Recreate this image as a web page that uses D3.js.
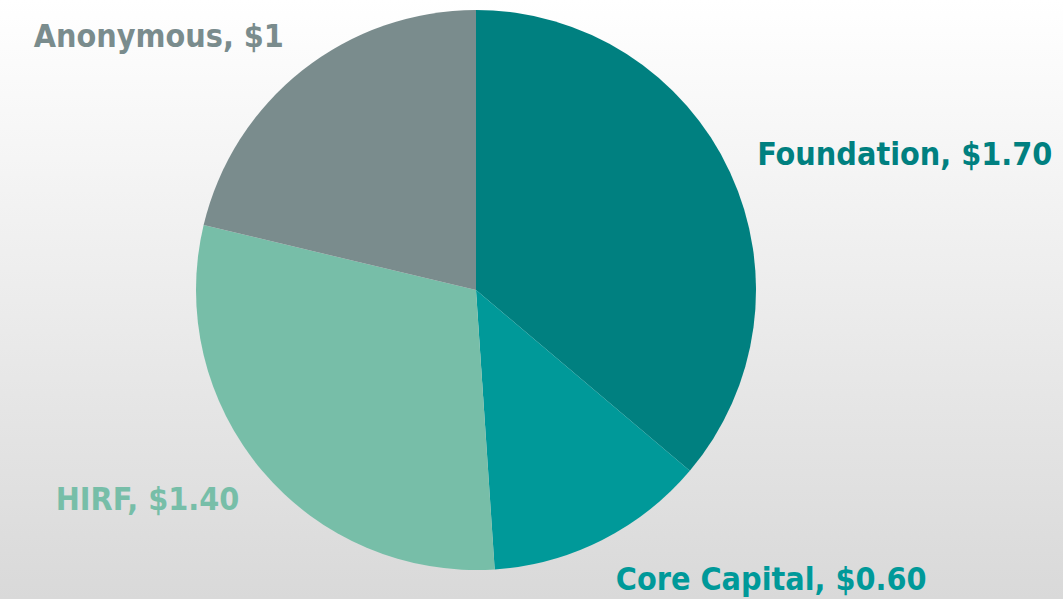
<!DOCTYPE html>
<html><head><meta charset="utf-8">
<script src="https://cdn.jsdelivr.net/npm/d3@7"></script>
<style>html,body{margin:0;padding:0;overflow:hidden}</style>
</head><body>
<svg id="c" width="1063" height="599"></svg>
<script>
const categories = ["Foundation", "Core Capital", "HIRF", "Anonymous"];
const values = [1.70, 0.60, 1.40, 1.00];
const valueLabels = ["$1.70", "$0.60", "$1.40", "$1"];
const colors = ["#008080", "#009999", "#77BEA8", "#7A8C8D"];

const W = 1063, H = 599;
const svg = d3.select("#c");
const defs = svg.append("defs");
const g = defs.append("linearGradient").attr("id","bg").attr("x1",0).attr("y1",0).attr("x2",0).attr("y2",1);
g.append("stop").attr("offset","0%").attr("stop-color","#ffffff");
g.append("stop").attr("offset","100%").attr("stop-color","#d9d9d9");
svg.append("rect").attr("width",W).attr("height",H).attr("fill","url(#bg)");

const cx = 476, cy = 290, r = 280;
const pie = d3.pie().sort(null).value(d => d);
const arcs = pie(values);
const arc = d3.arc().innerRadius(0).outerRadius(r);
const root = svg.append("g").attr("transform", `translate(${cx},${cy})`);
root.selectAll("path").data(arcs).join("path")
  .attr("d", arc).attr("fill", (d,i) => colors[i]);

const lrx = r + 30, lry = r + 44;
root.selectAll("text").data(arcs).join("text")
  .attr("x", d => { const a = (d.startAngle + d.endAngle)/2; return Math.sin(a)*lrx; })
  .attr("y", d => { const a = (d.startAngle + d.endAngle)/2; return -Math.cos(a)*lry; })
  .attr("text-anchor", d => Math.sin((d.startAngle + d.endAngle)/2) >= 0 ? "start" : "end")
  .attr("dominant-baseline", "central")
  .attr("fill", (d,i) => colors[i])
  .style("font-family", "'DejaVu Sans Condensed', 'DejaVu Sans', sans-serif")
  .style("font-stretch", "condensed")
  .style("font-weight", "bold")
  .style("font-size", "32px")
  .text((d,i) => `${categories[i]}, ${valueLabels[i]}`);
</script>
</body></html>
